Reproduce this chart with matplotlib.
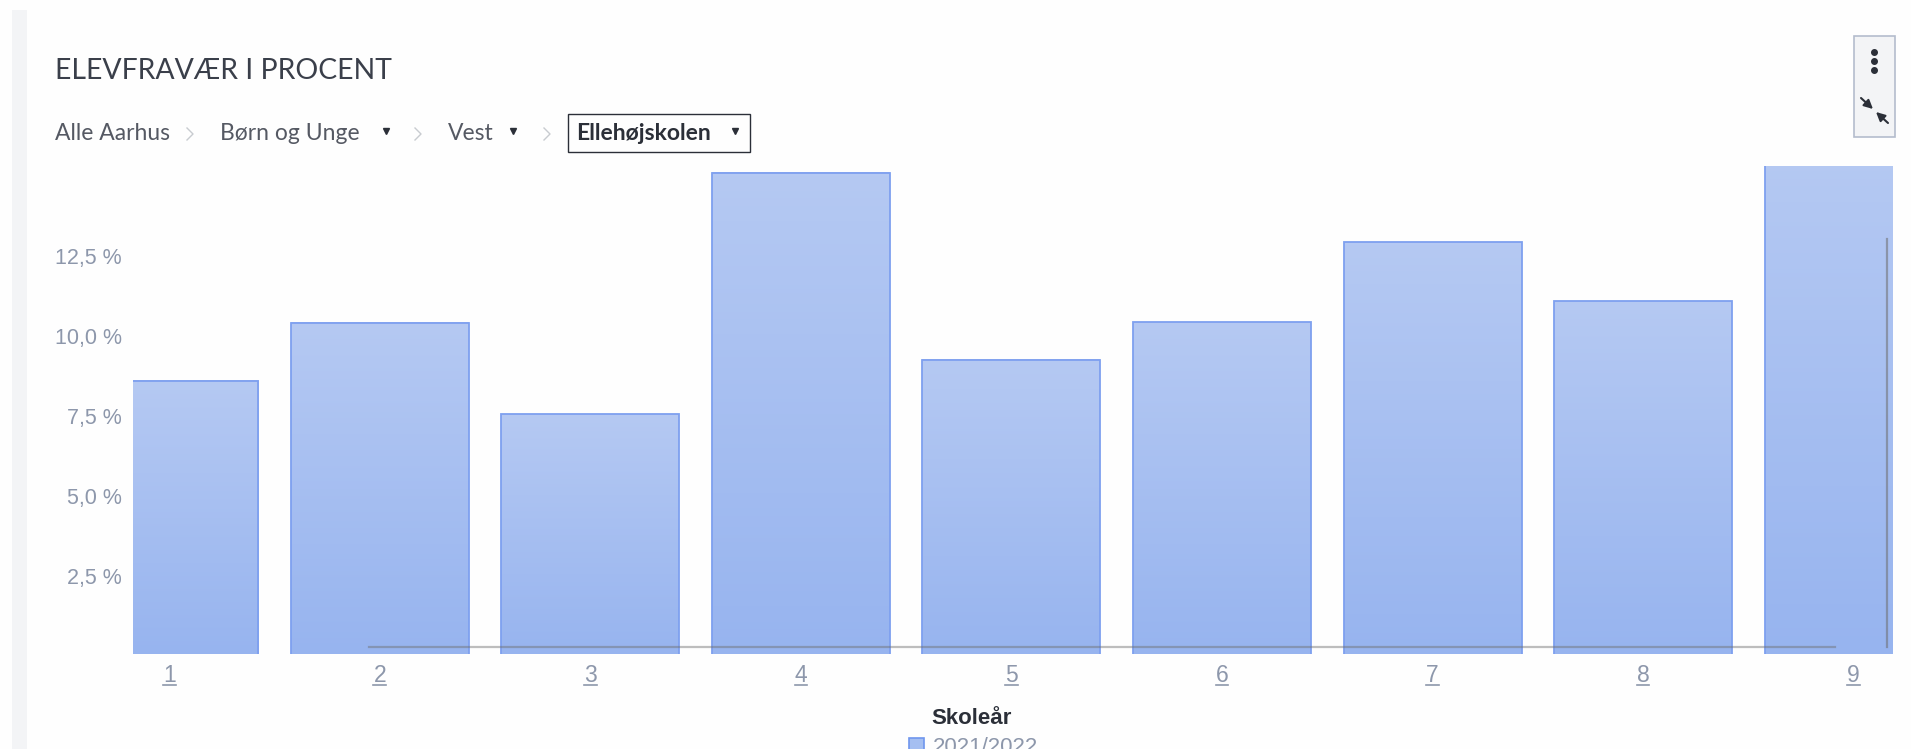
import numpy as np
import matplotlib
matplotlib.use("Agg")
import matplotlib.pyplot as plt
from matplotlib.colors import LinearSegmentedColormap
from matplotlib.patches import Rectangle

# data
grades = [1, 2, 3, 4, 5, 6, 7, 8, 9]
absence = [8.6, 10.42, 7.56, 15.12, 9.26, 10.44, 12.95, 11.1, 15.8]
y_ticks = [2.5, 5.0, 7.5, 10.0, 12.5]
y_labels = ["2,5 %", "5,0 %", "7,5 %", "10,0 %", "12,5 %"]
title = "ELEVFRAVÆR I PROCENT"
legend_title = "Skoleår"
legend_label = "2021/2022"

TEXT_GREY = "#8d97ab"
DARK = "#2b2f38"

W, H = 1911, 749
fig = plt.figure(figsize=(W / 100, H / 100), dpi=100, facecolor="#fefefe")

# chart
ax = fig.add_axes([133 / W, (H - 654) / H, (1892 - 133) / W, (654 - 166) / H])
ax.set_facecolor("none")
grad = LinearSegmentedColormap.from_list("bar", ["#b5c9f3", "#97b4ef"])
ramp = np.linspace(0, 1, 128).reshape(-1, 1)
bar_w = 0.845
for g, v in zip(grades, absence):
    ax.imshow(ramp, cmap=grad, extent=(g - bar_w / 2, g + bar_w / 2, 0, v),
              aspect="auto", origin="upper", zorder=1)
ax.bar(grades, absence, width=bar_w, fill=False, edgecolor="#7ea0ef",
       linewidth=1.3, zorder=2)
# x labels are underlined like links
for g in grades:
    ax.plot([g - 0.03, g + 0.03], [-0.064, -0.064], color=TEXT_GREY, lw=1.2,
            transform=ax.get_xaxis_transform(), clip_on=False)
ax.set_xlim(0.828, 9.182)
ax.set_ylim(0.05, 15.33)
for s in ax.spines.values():
    s.set_visible(False)
ax.set_yticks(y_ticks, y_labels, fontsize=15.5, color=TEXT_GREY,
              family="Liberation Sans")
ax.set_xticks(grades, [str(g) for g in grades], fontsize=16.5, color=TEXT_GREY,
              family="Liberation Sans")
ax.tick_params(axis="y", length=0, pad=8)
ax.tick_params(axis="x", length=0, pad=7)

# page furniture, in pixels
ui = fig.add_axes([0, 0, 1, 1], zorder=5)
ui.set_xlim(0, W)
ui.set_ylim(H, 0)
ui.axis("off")
ui.patch.set_alpha(0)

ui.add_patch(Rectangle((12, 10), 15, H, color="#f3f4f6", lw=0))
ui.text(55, 71, title, fontsize=20.4, family="Lato", color="#3a3f4a", va="center")

crumb_y = 134
for x, s in [(55, "Alle Aarhus"), (220, "Børn og Unge"), (448, "Vest")]:
    ui.text(x, crumb_y, s, fontsize=16.5, family="Lato", color="#555963", va="center")
ui.text(576, crumb_y, "Ellehøjskolen", fontsize=16.5, family="Lato", weight="bold",
        color=DARK, va="center")
ui.add_patch(Rectangle((568, 114), 182, 38, fill=False, ec=DARK, lw=1))
ui.plot([386, 513, 735], [131, 131, 131], "v", ms=5, color=DARK, ls="none")
for x in [190, 418, 547]:
    ui.plot([x - 3, x + 3, x - 3], [crumb_y - 6, crumb_y, crumb_y + 6],
            color="#c8cbd0", lw=1)

# button top right
ui.add_patch(Rectangle((1854, 36), 41, 101, fc="#f3f4f6", ec="#b4bccd", lw=1.2))
ui.plot([1874, 1874, 1874], [52, 61, 70], "o", ms=4, color=DARK, ls="none")
ui.annotate("", xy=(1873, 109), xytext=(1861, 98),
            arrowprops=dict(arrowstyle="-|>", color=DARK, lw=1.5, mutation_scale=13,
                            shrinkA=0, shrinkB=0))
ui.annotate("", xy=(1876, 112), xytext=(1888, 123),
            arrowprops=dict(arrowstyle="-|>", color=DARK, lw=1.5, mutation_scale=13,
                            shrinkA=0, shrinkB=0))

# scrollbars
ui.plot([369, 1835], [647, 647], color="#6e6e6e", alpha=0.45, lw=1.6)
ui.plot([1887, 1887], [239, 647], color="#6e6e6e", alpha=0.55, lw=1.6)

# legend, cut off by the bottom of the page
ui.text(972, 719, legend_title, fontsize=16, family="Liberation Sans", weight="bold",
        color=DARK, ha="center", va="center")
ui.add_patch(Rectangle((909, 738), 15, 20, fc="#a5bff1", ec="#6f96ee", lw=1.2))
ui.text(933, 737, legend_label, fontsize=16, family="Liberation Sans", color=TEXT_GREY,
        va="top")

fig.savefig("out.png", dpi=100, facecolor=fig.get_facecolor())
